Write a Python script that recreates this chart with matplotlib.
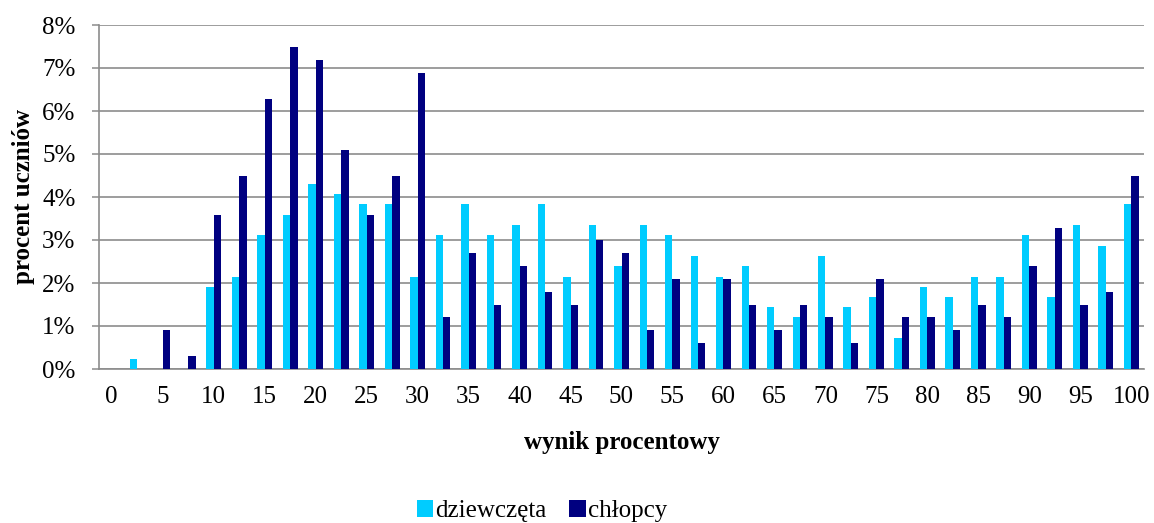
import matplotlib
matplotlib.use("Agg")
import matplotlib.pyplot as plt
import numpy as np
from matplotlib.patches import Patch

categories = [i * 2.5 for i in range(41)]
tick_labels = [str(v) for v in range(0, 101, 5)]
girls = [0, 0.24, 0, 0, 1.91, 2.15, 3.11, 3.59, 4.31, 4.07, 3.83, 3.83,
         2.15, 3.11, 3.83, 3.11, 3.35, 3.83, 2.15, 3.35, 2.39, 3.35, 3.11,
         2.63, 2.15, 2.39, 1.44, 1.20, 2.63, 1.44, 1.68, 0.72, 1.91, 1.68,
         2.15, 2.15, 3.11, 1.68, 3.35, 2.87, 3.83]
boys = [0, 0, 0.90, 0.30, 3.59, 4.49, 6.29, 7.49, 7.19, 5.09, 3.59, 4.49,
        6.89, 1.20, 2.69, 1.50, 2.40, 1.80, 1.50, 2.99, 2.69, 0.90, 2.10,
        0.60, 2.10, 1.50, 0.90, 1.50, 1.20, 0.60, 2.10, 1.20, 1.20, 0.90,
        1.50, 1.20, 2.40, 3.29, 1.50, 1.80, 4.49]
series_names = ["dziewczęta", "chłopcy"]
colors = ["#00CCFF", "#000080"]

plt.rcParams['font.family'] = ['Liberation Serif', 'DejaVu Serif']

fig = plt.figure(figsize=(11.54, 5.23), dpi=100)
ax = fig.add_axes([99/1154, (523-369)/523, (1144-99)/1154, (369-25)/523])

x = np.arange(len(categories))
w = 0.29
ax.bar(x - w/2, girls, width=w, color=colors[0], zorder=3)
ax.bar(x + w/2, boys, width=w, color=colors[1], zorder=3)

ax.set_xlim(-0.5, len(categories) - 0.5)
ax.set_ylim(0, 8)
ax.set_yticks(range(0, 9))
ax.set_yticklabels([f"{v}%" for v in range(0, 9)], fontsize=18)
ax.set_xticks(x[::2])
ax.set_xticklabels(tick_labels, fontsize=18)
ax.tick_params(axis='x', length=0, pad=12)
ax.tick_params(axis='y', length=5, width=1.1, color='#8c8c8c', pad=12)

ax.yaxis.grid(True, color='#8c8c8c', linewidth=1.2, zorder=0)
ax.set_axisbelow(True)
for s in ['top', 'right']:
    ax.spines[s].set_visible(False)
for s in ['left', 'bottom']:
    ax.spines[s].set_color('#8c8c8c')
    ax.spines[s].set_linewidth(1.2)

ax.set_ylabel("procent uczniów", fontsize=18, fontweight='bold', labelpad=5)
fig.text(0.5 * (99 + 1144) / 1154, (523 - 443) / 523, "wynik procentowy",
         fontsize=18, fontweight='bold', ha='center', va='center')

handles = [Patch(facecolor=c, edgecolor='none') for c in colors]
fig.legend(handles, series_names, loc='center', bbox_to_anchor=(542 / 1154, (523 - 511) / 523),
           ncol=2, frameon=False, fontsize=18, handlelength=0.65, handleheight=0.65,
           handletextpad=0.1, columnspacing=0.9, borderpad=0.2)

fig.savefig("out.png", dpi=100)
